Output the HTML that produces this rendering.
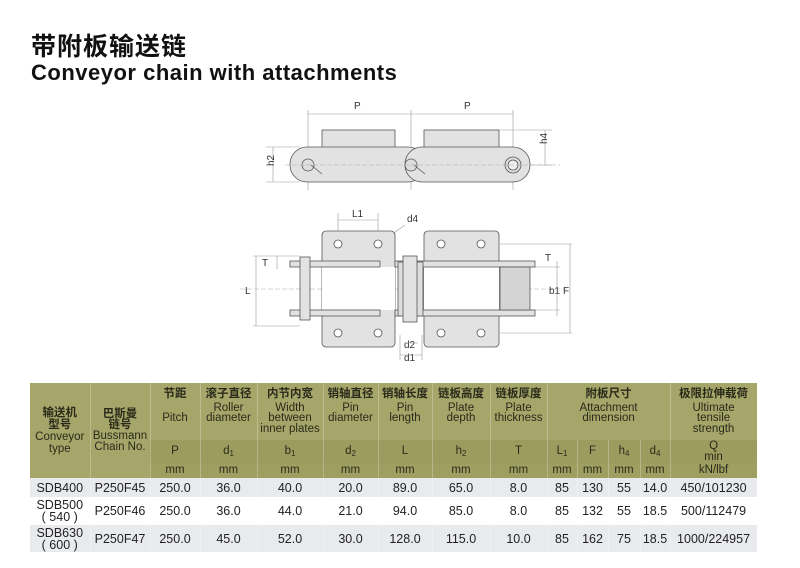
<!DOCTYPE html>
<html><head><meta charset="utf-8"><style>
body{margin:0;width:800px;height:568px;background:#fff;position:relative;overflow:hidden;font-family:"Liberation Sans","Noto Sans CJK SC",sans-serif;}
.t1{position:absolute;left:31px;top:33px;font-size:25px;line-height:28px;font-weight:bold;color:#111;letter-spacing:1px}
.t2{position:absolute;left:31px;top:61px;font-size:22px;line-height:24px;font-weight:bold;color:#111;letter-spacing:0.5px}
table{position:absolute;left:30px;top:383px;border-collapse:collapse;table-layout:fixed;width:727px;font-size:11px;color:#222}
td{padding:0;text-align:center;line-height:10.5px;border-right:1px solid rgba(255,255,255,0.25)}
.h td{background:#a7a66a;color:#2a2a1a;font-size:11.5px}
.h2 td{background:#9d9c5f}
.h3 td{background:#a09f62}
.cn{font-weight:bold;display:inline-block;margin-bottom:3px}
sub{font-size:8px;vertical-align:baseline;position:relative;top:2px;line-height:0}
.d td{font-size:12.5px;line-height:12px}
.g td{background:#e8eaee}
</style></head><body>
<div class="t1">带附板输送链</div>
<div class="t2">Conveyor chain with attachments</div>

<svg width="800" height="380" style="position:absolute;left:0;top:0" font-family="Liberation Sans,sans-serif">
<g stroke="#999" stroke-width="0.6" fill="none">
<line x1="308" y1="110" x2="308" y2="190"/><line x1="411" y1="110" x2="411" y2="190"/><line x1="513" y1="110" x2="513" y2="190"/>
<line x1="308" y1="114" x2="513" y2="114"/>
<line x1="266" y1="147" x2="300" y2="147"/><line x1="266" y1="182" x2="300" y2="182"/><line x1="273" y1="147" x2="273" y2="182"/>
<line x1="500" y1="130" x2="552" y2="130"/><line x1="520" y1="165" x2="552" y2="165"/><line x1="545" y1="130" x2="545" y2="165"/>
</g>
<g stroke="#555" stroke-width="0.8" fill="#e2e2e2">
<rect x="322" y="130" width="73" height="22"/>
<rect x="424" y="130" width="75" height="22"/>
<rect x="290" y="147" width="135" height="35" rx="17"/>
<rect x="405" y="147" width="125" height="35" rx="17"/>
<circle cx="308" cy="165" r="6" fill="#ddd"/><circle cx="411" cy="165" r="6" fill="#ddd"/>
<circle cx="513" cy="165" r="8" fill="#ddd"/><circle cx="513" cy="165" r="5" fill="#eee"/>
<line x1="311" y1="165" x2="322" y2="174"/><line x1="414" y1="165" x2="425" y2="174"/>
</g>
<g stroke="#aaa" stroke-width="0.5" stroke-dasharray="5,2" fill="none">
<line x1="285" y1="165" x2="560" y2="165"/><line x1="240" y1="289" x2="570" y2="289"/>
</g>
<g font-size="10" fill="#333">
<text x="354" y="109">P</text><text x="464" y="109">P</text>
<text x="270" y="170" transform="rotate(-90 270 166)">h2</text>
<text x="548" y="151" transform="rotate(-90 544 148)">h4</text>
<text x="352" y="217">L1</text><text x="407" y="222">d4</text>
<text x="262" y="266">T</text><text x="245" y="294">L</text>
<text x="545" y="261">T</text><text x="549" y="294">b1</text><text x="563" y="294">F</text>
<text x="404" y="348">d2</text><text x="404" y="361">d1</text>
</g>
<g stroke="#999" stroke-width="0.6" fill="none">
<line x1="338" y1="213" x2="338" y2="232"/><line x1="378" y1="213" x2="378" y2="232"/><line x1="338" y1="220" x2="378" y2="220"/>
<line x1="373" y1="248" x2="405" y2="225"/>
<line x1="256" y1="256" x2="256" y2="326"/><line x1="253" y1="256" x2="300" y2="256"/><line x1="253" y1="326" x2="300" y2="326"/>
<line x1="277" y1="256" x2="277" y2="269"/>
<line x1="570" y1="244" x2="570" y2="333"/><line x1="500" y1="244" x2="572" y2="244"/><line x1="500" y1="333" x2="572" y2="333"/>
<line x1="557" y1="261" x2="557" y2="316"/><line x1="530" y1="267" x2="560" y2="267"/><line x1="530" y1="310" x2="560" y2="310"/>
<line x1="400" y1="335" x2="400" y2="360"/><line x1="422" y1="335" x2="422" y2="360"/><line x1="400" y1="355" x2="422" y2="355"/>
<line x1="404" y1="343" x2="418" y2="343"/>
</g>
<g stroke="#555" stroke-width="0.8" fill="#e2e2e2">
<rect x="322" y="231" width="73" height="116" rx="4"/>
<rect x="424" y="231" width="75" height="116" rx="4"/>
<rect x="322" y="267" width="73" height="43" fill="#fff" stroke="none"/>
<rect x="424" y="267" width="75" height="43" fill="#fff" stroke="none"/>
<rect x="290" y="261" width="90" height="6"/><rect x="290" y="310" width="90" height="6"/>
<rect x="395" y="261" width="140" height="6"/><rect x="395" y="310" width="140" height="6"/>
<rect x="300" y="257" width="10" height="63"/>
<rect x="500" y="267" width="30" height="43" fill="#d4d4d4"/>
<rect x="398" y="262" width="25" height="54" fill="#ddd"/>
<rect x="403" y="256" width="14" height="66"/>
<circle cx="338" cy="244" r="4" fill="#fff"/><circle cx="378" cy="244" r="4" fill="#fff"/>
<circle cx="441" cy="244" r="4" fill="#fff"/><circle cx="481" cy="244" r="4" fill="#fff"/>
<circle cx="338" cy="333" r="4" fill="#fff"/><circle cx="378" cy="333" r="4" fill="#fff"/>
<circle cx="441" cy="333" r="4" fill="#fff"/><circle cx="481" cy="333" r="4" fill="#fff"/>
</g>
</svg>

<table>
<colgroup><col style="width:60px"><col style="width:60px"><col style="width:50px"><col style="width:57px"><col style="width:66px"><col style="width:55px"><col style="width:54px"><col style="width:58px"><col style="width:57px"><col style="width:30px"><col style="width:31px"><col style="width:32px"><col style="width:30px"><col style="width:87px"></colgroup>
<tr class="h" style="height:57px">
<td rowspan="3" style="background:#a7a66a;line-height:12px"><span class="cn" style="margin:0">输送机<br>型号</span><br>Conveyor<br>type</td>
<td rowspan="3" style="background:#a7a66a;line-height:11px"><span class="cn" style="margin:0">巴斯曼<br>链号</span><br>Bussmann<br>Chain No.</td>
<td><span class="cn">节距</span><br><br>Pitch<br><br></td>
<td><span class="cn">滚子直径</span><br>Roller<br>diameter<br><br></td>
<td><span class="cn">内节内宽</span><br>Width<br>between<br>inner plates</td>
<td><span class="cn">销轴直径</span><br>Pin<br>diameter<br><br></td>
<td><span class="cn">销轴长度</span><br>Pin<br>length<br><br></td>
<td><span class="cn">链板高度</span><br>Plate<br>depth<br><br></td>
<td><span class="cn">链板厚度</span><br>Plate<br>thickness<br><br></td>
<td colspan="4"><span class="cn">附板尺寸</span><br>Attachment<br>dimension<br><br></td>
<td><span class="cn">极限拉伸载荷</span><br>Ultimate<br>tensile<br>strength</td>
</tr>
<tr class="h h2" style="height:23px"><td>P</td><td>d<sub>1</sub></td><td>b<sub>1</sub></td><td>d<sub>2</sub></td><td>L</td><td>h<sub>2</sub></td><td>T</td><td>L<sub>1</sub></td><td>F</td><td>h<sub>4</sub></td><td>d<sub>4</sub></td><td>Q<br>min</td></tr>
<tr class="h h3" style="height:15px"><td>mm</td><td>mm</td><td>mm</td><td>mm</td><td>mm</td><td>mm</td><td>mm</td><td>mm</td><td>mm</td><td>mm</td><td>mm</td><td>kN/lbf</td></tr>
<tr class="d g" style="height:19px"><td>SDB400</td><td>P250F45</td><td>250.0</td><td>36.0</td><td>40.0</td><td>20.0</td><td>89.0</td><td>65.0</td><td>8.0</td><td>85</td><td>130</td><td>55</td><td>14.0</td><td>450/101230</td></tr>
<tr class="d" style="height:28px"><td>SDB500<br>( 540 )</td><td>P250F46</td><td>250.0</td><td>36.0</td><td>44.0</td><td>21.0</td><td>94.0</td><td>85.0</td><td>8.0</td><td>85</td><td>132</td><td>55</td><td>18.5</td><td>500/112479</td></tr>
<tr class="d g" style="height:27px"><td>SDB630<br>( 600 )</td><td>P250F47</td><td>250.0</td><td>45.0</td><td>52.0</td><td>30.0</td><td>128.0</td><td>115.0</td><td>10.0</td><td>85</td><td>162</td><td>75</td><td>18.5</td><td>1000/224957</td></tr>
</table>
</body></html>
